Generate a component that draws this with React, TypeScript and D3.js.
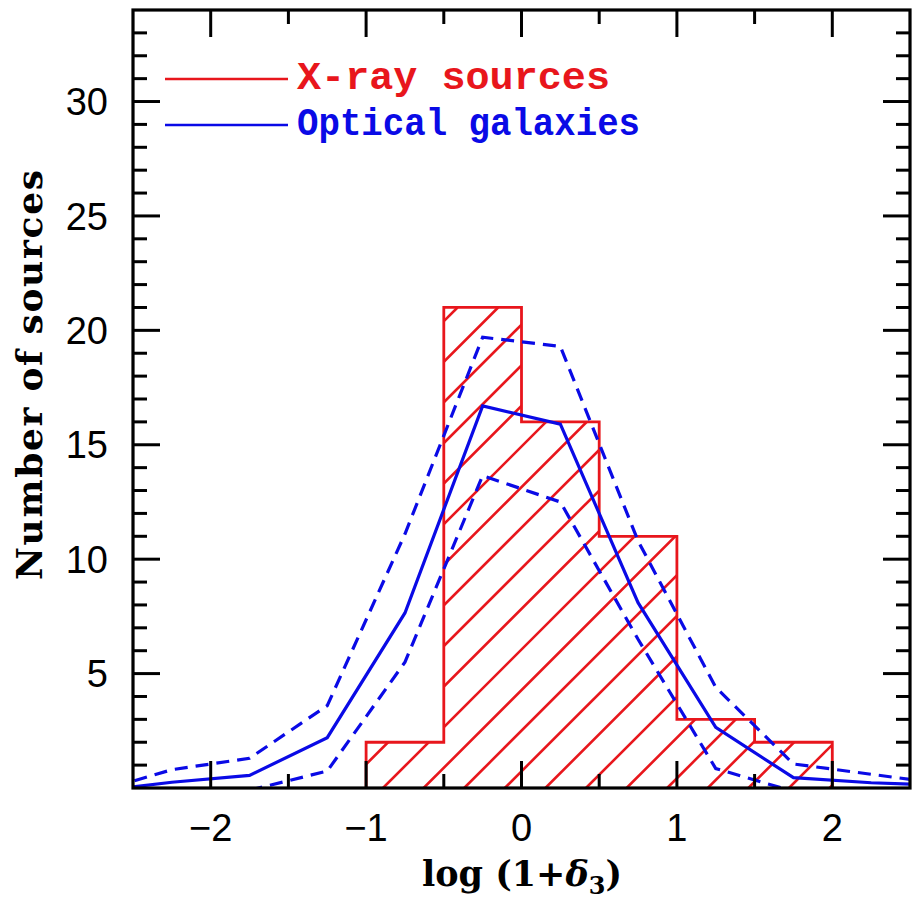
import React from "react";
import * as d3 from "d3";

// ---- data ----
const xrayBinEdges = [-1, -0.5, 0, 0.5, 1, 1.5, 2];
const xrayCounts = [2, 21, 16, 11, 3, 2];

const opticalX = [-2.75, -2.25, -1.75, -1.25, -0.75, -0.25, 0.25, 0.75, 1.25, 1.75, 2.25, 2.75];
const opticalMean = [-0.15, 0.25, 0.55, 2.2, 7.65, 16.7, 15.9, 8.1, 2.65, 0.45, 0.23, 0.1];
const opticalUpper = [-0.2, 0.8, 1.3, 3.6, 11.1, 19.7, 19.3, 10.8, 4.4, 1.05, 0.6, 0.15];
const opticalLower = [NaN, NaN, -0.1, 0.74, 5.5, 13.65, 12.5, 6.5, 0.85, -0.15, NaN, NaN];

const xTickValues = [-2, -1, 0, 1, 2];
const xMinorTickValues = [-1.5, -0.5, 0.5, 1.5];
const yTickValues = [5, 10, 15, 20, 25, 30];
const yMinorTickValues = d3.range(1, 34).filter((v) => v % 5 !== 0);

const legendLabels = ["X-ray sources", "Optical galaxies"];
const xDomain: [number, number] = [-2.5, 2.5];
const yDomain: [number, number] = [0, 34];

const RED = "#e8161c";
const BLUE = "#0a0ae6";

export default function App() {
  const W = 913, H = 902;
  const left = 133, right = 910, top = 10, bottom = 788;
  const x = d3.scaleLinear().domain(xDomain).range([left, right]);
  const y = d3.scaleLinear().domain(yDomain).range([bottom, top]);

  // histogram step outline
  const pts: [number, number][] = [];
  pts.push([x(xrayBinEdges[0]), y(0)]);
  xrayCounts.forEach((c, i) => {
    pts.push([x(xrayBinEdges[i]), y(c)]);
    pts.push([x(xrayBinEdges[i + 1]), y(c)]);
  });
  pts.push([x(xrayBinEdges[xrayBinEdges.length - 1]), y(0)]);
  const histPath = d3.line()(pts) as string;

  // hatch lines: x + y = const, 45 deg
  const hatchSpacing = 40.6;
  const hatchPhase = 1171;
  const hx0 = x(xrayBinEdges[0]), hx1 = x(xrayBinEdges[xrayBinEdges.length - 1]);
  const hy0 = y(d3.max(xrayCounts) as number), hy1 = y(0);
  const kMin = Math.floor((hx0 + hy0 - hatchPhase) / hatchSpacing) - 1;
  const kMax = Math.ceil((hx1 + hy1 - hatchPhase) / hatchSpacing) + 1;
  const hatch = d3.range(kMin, kMax + 1).map((k) => {
    const c = hatchPhase + k * hatchSpacing;
    return { x1: c - hy1, y1: hy1, x2: c - hy0, y2: hy0 };
  });

  const line = d3
    .line<number>()
    .defined((d) => !isNaN(d))
    .x((_, i) => x(opticalX[i]))
    .y((d) => y(d));

  const majorLen = 27, minorLen = 14;
  const tickFont = "'Liberation Sans', Arial, sans-serif";
  const serif = "'DejaVu Serif', serif";
  const mono = "'Liberation Mono', 'DejaVu Sans Mono', monospace";

  return (
    <svg width={W} height={H} style={{ position: "absolute", left: 0, top: 0, background: "#fff" }}>
      <defs>
        <clipPath id="histClip">
          <path d={histPath + "Z"} />
        </clipPath>
        <clipPath id="plotClip">
          <rect x={left} y={top} width={right - left} height={bottom - top} />
        </clipPath>
      </defs>
      <rect x={0} y={0} width={W} height={H} fill="#fff" />

      {/* hatching */}
      <g clipPath="url(#histClip)" stroke={RED} strokeWidth={2.6}>
        {hatch.map((h, i) => (
          <line key={i} x1={h.x1} y1={h.y1} x2={h.x2} y2={h.y2} />
        ))}
      </g>
      <path d={histPath} fill="none" stroke={RED} strokeWidth={2.8} strokeLinejoin="miter" />

      {/* optical curves */}
      <g clipPath="url(#plotClip)" fill="none" stroke={BLUE} strokeWidth={3.2}>
        <path d={line(opticalUpper) as string} strokeDasharray="13 8" />
        <path d={line(opticalLower) as string} strokeDasharray="13 8" />
        <path d={line(opticalMean) as string} />
      </g>

      {/* frame */}
      <rect x={left} y={top} width={right - left} height={bottom - top} fill="none" stroke="#000" strokeWidth={3.2} />

      {/* ticks */}
      <g stroke="#000" strokeWidth={3}>
        {xTickValues.map((v) => (
          <g key={"xm" + v}>
            <line x1={x(v)} x2={x(v)} y1={bottom} y2={bottom - majorLen} />
            <line x1={x(v)} x2={x(v)} y1={top} y2={top + majorLen} />
          </g>
        ))}
        {xMinorTickValues.map((v) => (
          <g key={"xn" + v}>
            <line x1={x(v)} x2={x(v)} y1={bottom} y2={bottom - minorLen} />
            <line x1={x(v)} x2={x(v)} y1={top} y2={top + minorLen} />
          </g>
        ))}
        {yTickValues.map((v) => (
          <g key={"ym" + v}>
            <line x1={left} x2={left + majorLen} y1={y(v)} y2={y(v)} />
            <line x1={right} x2={right - majorLen} y1={y(v)} y2={y(v)} />
          </g>
        ))}
        {yMinorTickValues.map((v) => (
          <g key={"yn" + v}>
            <line x1={left} x2={left + minorLen} y1={y(v)} y2={y(v)} />
            <line x1={right} x2={right - minorLen} y1={y(v)} y2={y(v)} />
          </g>
        ))}
      </g>

      {/* tick labels */}
      <g fontFamily={tickFont} fontSize={38} fill="#000">
        {xTickValues.map((v) => (
          <text key={"xl" + v} x={x(v)} y={841} textAnchor="middle">
            {v < 0 ? "\u2212" + Math.abs(v) : String(v)}
          </text>
        ))}
        {yTickValues.map((v) => (
          <text key={"yl" + v} x={108} y={y(v)} dy="0.36em" textAnchor="end">
            {String(v)}
          </text>
        ))}
      </g>

      {/* axis labels */}
      <text
        transform={`translate(42, ${(y(0) + y(34)) / 2 - 24}) rotate(-90)`}
        textAnchor="middle"
        fontFamily={serif}
        fontWeight="bold"
        fontSize={36}
        textLength={410}
        lengthAdjust="spacing"
        fill="#000"
      >
        Number of sources
      </text>
      <text x={522} y={886} textAnchor="middle" fontFamily={serif} fontWeight="bold" fontSize={35} fill="#000">
        log (1+<tspan fontStyle="italic">δ</tspan>
        <tspan fontSize={24} dy={8}>3</tspan>
        <tspan dy={-8}>)</tspan>
      </text>

      {/* legend */}
      <line x1={165} x2={288} y1={79} y2={79} stroke={RED} strokeWidth={2.4} />
      <text x={297} y={89} fontFamily={mono} fontWeight="bold" fontSize={38} fill={RED} textLength={313} lengthAdjust="spacingAndGlyphs">
        {legendLabels[0]}
      </text>
      <line x1={165} x2={288} y1={125} y2={125} stroke={BLUE} strokeWidth={2.4} />
      <text x={297} y={135} fontFamily={mono} fontWeight="bold" fontSize={38} fill={BLUE} textLength={343} lengthAdjust="spacingAndGlyphs">
        {legendLabels[1]}
      </text>
    </svg>
  );
}
